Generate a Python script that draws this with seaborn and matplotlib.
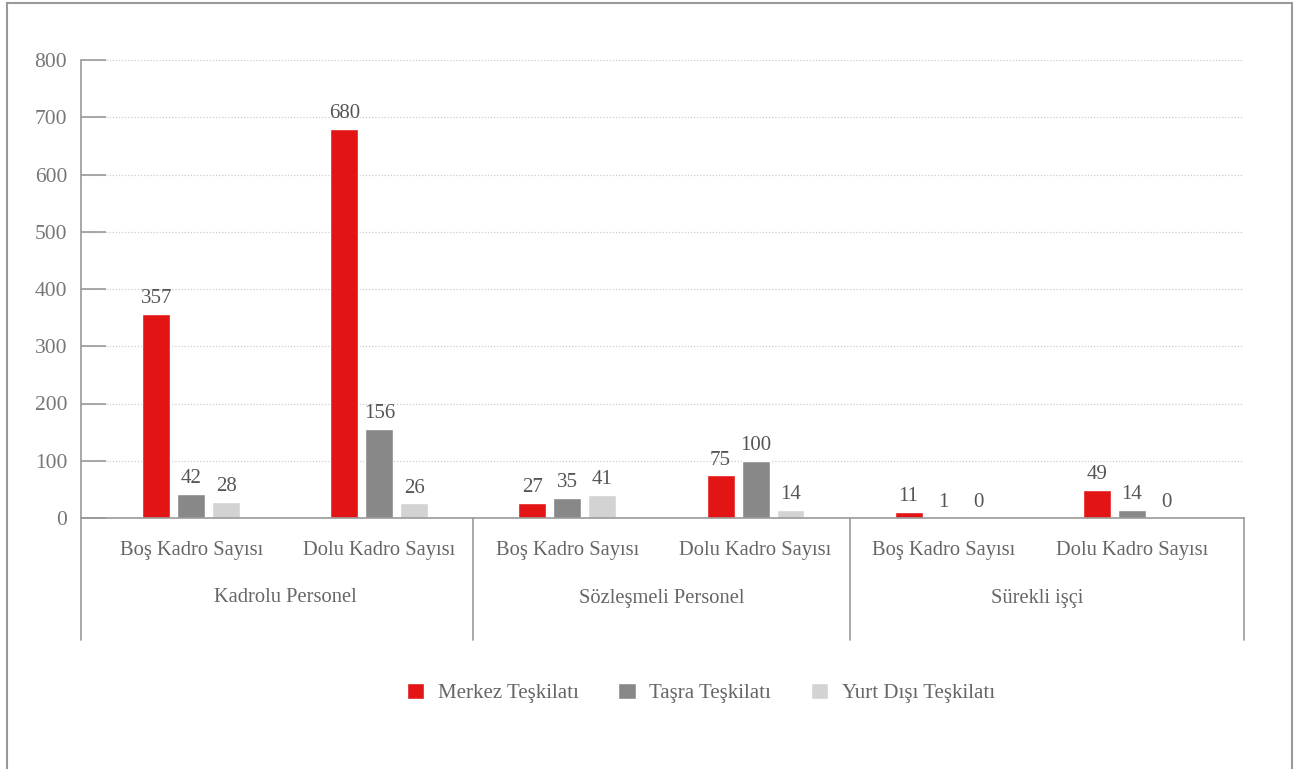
import matplotlib
matplotlib.use("Agg")
import matplotlib.pyplot as plt
import seaborn as sns
import pandas as pd

# ---- data ----
groups = ["Kadrolu Personel", "Sözleşmeli Personel", "Sürekli işçi"]
subcats = ["Boş Kadro Sayısı", "Dolu Kadro Sayısı"]
series = ["Merkez Teşkilatı", "Taşra Teşkilatı", "Yurt Dışı Teşkilatı"]
merkez = [357, 680, 27, 75, 11, 49]
tasra = [42, 156, 35, 100, 1, 14]
yurtdisi = [28, 26, 41, 14, 0, 0]
yticks = [0, 100, 200, 300, 400, 500, 600, 700, 800]
colors = ["#E31414", "#888888", "#D3D3D3"]

keys = [f"{g}|{s}" for g in groups for s in subcats]
rows = []
for name, vals in zip(series, [merkez, tasra, yurtdisi]):
    for k, v in zip(keys, vals):
        rows.append({"cat": k, "series": name, "value": v})
df = pd.DataFrame(rows)

sns.set_theme(style="white")
plt.rcParams["font.family"] = ["Liberation Serif", "DejaVu Serif"]

W, H = 1297, 769
fig = plt.figure(figsize=(W / 100, H / 100), dpi=100)
ax = fig.add_axes([81 / W, 1 - 518 / H, (1244 - 81) / W, (518 - 60) / H])

sns.barplot(data=df, x="cat", y="value", hue="series", order=keys,
            hue_order=series, palette=colors, width=0.558, gap=0.2,
            saturation=1, ax=ax, legend=True)

ax.set_ylim(0, 800)
ax.set_xlim(-0.586, 5.597)
ax.set_yticks(yticks)
ax.set_yticklabels([str(t) for t in yticks], color="#777777", fontsize=15.5)
ax.tick_params(axis="y", direction="in", length=18, width=1.2, color="#999999", pad=10, left=True)
ax.set_xticks([])
ax.set_xlabel("")
ax.set_ylabel("")
ax.yaxis.grid(True, linestyle=(0, (1, 1.5)), color="#cccccc", linewidth=0.9)
ax.set_axisbelow(True)
for s in ["top", "right"]:
    ax.spines[s].set_visible(False)
ax.spines["left"].set_color("#999999")
ax.spines["bottom"].set_color("#999999")
ax.spines["left"].set_linewidth(1.2)
ax.spines["bottom"].set_linewidth(1.2)

# value labels
for cont, vals in zip(ax.containers, [merkez, tasra, yurtdisi]):
    ax.bar_label(cont, labels=[str(v) for v in vals], padding=4,
                 fontsize=15, color="#555555")

# multi-level category axis
tr = ax.get_xaxis_transform()
ybot = -(640 - 518) / (518 - 60)
for xs in [ax.get_xlim()[0], 1.5, 3.5, ax.get_xlim()[1]]:
    ax.plot([xs, xs], [0, ybot], transform=tr, color="#999999", lw=1.2, clip_on=False)
for i, k in enumerate(keys):
    ax.text(i, -(550 - 518) / 458, k.split("|")[1], transform=tr, ha="center", va="center",
            fontsize=14.8, color="#666666")
for j, g in enumerate(groups):
    ax.text(2 * j + 0.5, -(598 - 518) / 458, g, transform=tr, ha="center", va="center",
            fontsize=14.8, color="#666666")

# legend
handles, labels = ax.get_legend_handles_labels()
ax.legend(handles, labels, loc="center", bbox_to_anchor=(701 / W, 1 - 693 / H),
          bbox_transform=fig.transFigure, ncol=3, frameon=False, fontsize=15,
          handlelength=0.82, handleheight=0.82, columnspacing=1.9, handletextpad=0.67,
          labelcolor="#666666")

# outer frame
frame = plt.Rectangle((7 / W, -0.1), (1292 - 7) / W, 1.1 - 3 / H, transform=fig.transFigure,
                      fill=False, edgecolor="#999999", lw=1.5)
fig.patches.append(frame)

fig.savefig("out.png", dpi=100)
